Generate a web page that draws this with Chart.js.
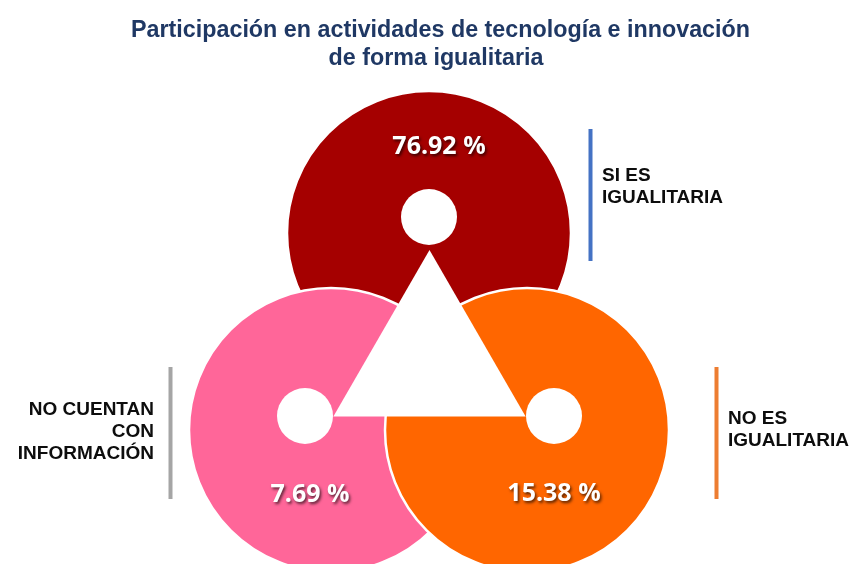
<!DOCTYPE html>
<html lang="es">
<head>
<meta charset="utf-8">
<title>Participación en actividades de tecnología e innovación</title>
<script src="https://cdn.jsdelivr.net/npm/chart.js@4/dist/chart.umd.min.js"></script>
<style>
  html, body { margin: 0; padding: 0; background: #ffffff; }
  #wrap { width: 853px; height: 564px; position: relative; }
</style>
</head>
<body>
<div id="wrap"><canvas id="chart" width="853" height="564"></canvas></div>
<script>
// ---- data ----
const titleLines = ['Participación en actividades de tecnología e innovación', 'de forma igualitaria'];
const categories = ['SI ES IGUALITARIA', 'NO CUENTAN CON INFORMACIÓN', 'NO ES IGUALITARIA'];
const categoryLines = [['SI ES', 'IGUALITARIA'], ['NO CUENTAN', 'CON', 'INFORMACIÓN'], ['NO ES', 'IGUALITARIA']];
const percentages = [76.92, 7.69, 15.38];

// ---- styles ----
const ringColors = ['#A50000', '#FF6699', '#FF6600'];
const ruleColors = ['#4472C4', '#A5A5A5', '#ED7D31'];
const titleColor = '#1F3864';

// ---- layout (canvas pixel units, x/y scales span the whole canvas) ----
const W = 853, H = 564;
const ringCentres = [[429, 233], [331, 430], [527, 430]];
const holeCentres = [[429, 217], [305, 416], [554, 416]];
const triangleCentre = [429.5, 361];
const ringRadius = 142, holeRadius = 28, triangleRadius = 111;
const valueOffsets = [[10, -72], [5, 77], [0, 76]];           // relative to each hole
const captionBoxes = [                                        // rule x, rule y range, text x, align, first line centre
  { ruleX: 590.5, y0: 129, y1: 261, textX: 602, align: 'left',  firstY: 174 },
  { ruleX: 170.5, y0: 367, y1: 499, textX: 154, align: 'right', firstY: 408 },
  { ruleX: 716.5, y0: 367, y1: 499, textX: 728, align: 'left',  firstY: 417 }
];
const captionLineHeight = 22;

const pts = arr => arr.map(([x, y]) => ({ x, y }));

const overlayPlugin = {
  id: 'overlay',
  afterDatasetsDraw(chart) {
    const ctx = chart.ctx;

    // title, two centred lines, fitted to the title width
    ctx.save();
    ctx.fillStyle = titleColor;
    ctx.font = 'bold 23px "Liberation Sans", Arial, sans-serif';
    ctx.textAlign = 'center';
    ctx.textBaseline = 'alphabetic';
    const sx = 619 / ctx.measureText(titleLines[0]).width;
    [[titleLines[0], 440.5, 36.5], [titleLines[1], 436, 64.5]].forEach(([t, x, y]) => {
      ctx.save();
      ctx.translate(x, y);
      ctx.scale(sx, 1);
      ctx.fillText(t, 0, 0);
      ctx.restore();
    });
    ctx.restore();

    // percentage labels on each ring
    const holes = chart.getDatasetMeta(0).data;
    ctx.save();
    ctx.font = 'bold 25px "Open Sans", sans-serif';
    ctx.textAlign = 'center';
    ctx.textBaseline = 'alphabetic';
    ctx.fillStyle = '#ffffff';
    ctx.shadowColor = 'rgba(0,0,0,0.65)';
    ctx.shadowBlur = 3;
    ctx.shadowOffsetX = 1.5;
    ctx.shadowOffsetY = 1.5;
    percentages.forEach((v, i) => {
      const el = holes[i];
      const [dx, dy] = valueOffsets[i];
      ctx.fillText(v.toFixed(2) + ' %', el.x + dx, el.y + dy + 9);
    });
    ctx.restore();

    // category captions with a coloured rule
    ctx.save();
    captionBoxes.forEach((b, i) => {
      ctx.fillStyle = ruleColors[i];
      ctx.fillRect(b.ruleX - 2, b.y0, 4, b.y1 - b.y0);
      ctx.fillStyle = '#0D0D0D';
      ctx.font = 'bold 19px "Liberation Sans", Arial, sans-serif';
      ctx.textAlign = b.align;
      ctx.textBaseline = 'alphabetic';
      categoryLines[i].forEach((line, k) => {
        ctx.fillText(line, b.textX, b.firstY + k * captionLineHeight + 6.8);
      });
    });
    ctx.restore();
  }
};

new Chart(document.getElementById('chart'), {
  type: 'scatter',
  data: {
    datasets: [
      {
        label: 'centro',
        data: pts(holeCentres),
        pointStyle: 'circle',
        pointRadius: holeRadius,
        pointHoverRadius: holeRadius,
        pointBackgroundColor: '#ffffff',
        pointBorderWidth: 0,
        clip: false
      },
      {
        label: 'triángulo',
        data: pts([triangleCentre]),
        pointStyle: 'triangle',
        pointRadius: triangleRadius,
        pointHoverRadius: triangleRadius,
        pointBackgroundColor: '#ffffff',
        pointBorderWidth: 0,
        clip: false
      },
      {
        label: 'Participación',
        data: pts(ringCentres),
        pointStyle: 'circle',
        pointRadius: ringRadius,
        pointHoverRadius: ringRadius,
        pointBackgroundColor: ringColors,
        pointBorderColor: '#ffffff',
        pointBorderWidth: 2.5,
        clip: false
      }
    ]
  },
  options: {
    responsive: false,
    animation: false,
    events: [],
    layout: { padding: 0, autoPadding: false },
    scales: {
      x: { type: 'linear', min: 0, max: W, display: false },
      y: { type: 'linear', min: 0, max: H, reverse: true, display: false }
    },
    plugins: {
      legend: { display: false },
      title: { display: false },
      tooltip: { enabled: false }
    }
  },
  plugins: [overlayPlugin]
});
</script>
</body>
</html>
